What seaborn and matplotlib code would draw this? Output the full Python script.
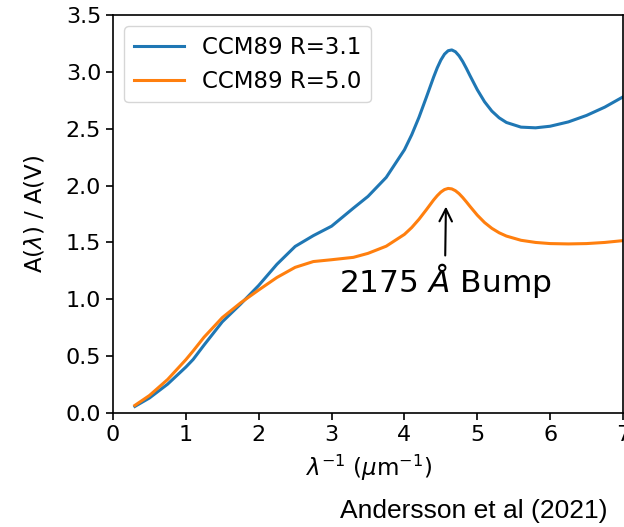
import pandas as pd
import matplotlib
matplotlib.use("Agg")
import matplotlib.pyplot as plt
import seaborn as sns

# inverse wavelength (1/micron)
inv_wave = [0.3, 0.5, 0.75, 1.0, 1.1, 1.25, 1.5, 1.75, 2.0, 2.25, 2.5, 2.75, 3.0,
            3.3, 3.5, 3.75, 4.0, 4.1, 4.2, 4.3, 4.4, 4.45, 4.5, 4.55, 4.6, 4.65, 4.7,
            4.75, 4.8, 4.85, 4.9, 5.0, 5.1, 5.2, 5.3, 5.4, 5.6, 5.8, 6.0, 6.25, 6.5,
            6.75, 7.0]
# A(lambda)/A(V)
ext_r31 = [0.058, 0.132, 0.254, 0.404, 0.471, 0.598, 0.802, 0.957, 1.122, 1.308, 1.465, 1.560, 1.643,
           1.802, 1.905, 2.072, 2.315, 2.447, 2.601, 2.775, 2.953, 3.035, 3.104, 3.156, 3.186, 3.193, 3.177,
           3.141, 3.091, 3.031, 2.967, 2.843, 2.737, 2.655, 2.596, 2.555, 2.514, 2.508, 2.522, 2.560, 2.617,
           2.690, 2.780]
ext_r50 = [0.067, 0.154, 0.295, 0.469, 0.546, 0.667, 0.839, 0.968, 1.082, 1.192, 1.281, 1.332, 1.348,
           1.369, 1.404, 1.467, 1.571, 1.631, 1.704, 1.787, 1.873, 1.911, 1.943, 1.965, 1.975, 1.971, 1.955,
           1.929, 1.895, 1.857, 1.817, 1.740, 1.675, 1.624, 1.585, 1.556, 1.519, 1.500, 1.490, 1.487, 1.490,
           1.500, 1.516]
labels = ["CCM89 R=3.1", "CCM89 R=5.0"]

df = pd.DataFrame({
    "x": inv_wave * 2,
    "ext": ext_r31 + ext_r50,
    "model": [labels[0]] * len(inv_wave) + [labels[1]] * len(inv_wave),
})

plt.rcParams["font.family"] = ["DejaVu Sans"]
fig = plt.figure(figsize=(6.24, 5.27), dpi=100)
ax = fig.add_axes([0.1811, 0.2163, 0.8173, 0.7552])
sns.lineplot(data=df, x="x", y="ext", hue="model", palette=["#1f77b4", "#ff7f0e"],
             linewidth=2.2, ax=ax, sort=False)

ax.set_xlim(0, 7)
ax.set_ylim(0, 3.5)
ax.set_xticks(range(0, 8))
ax.set_yticks([0, 0.5, 1.0, 1.5, 2.0, 2.5, 3.0, 3.5])
ax.tick_params(labelsize=16, length=5, width=1.2)
ax.set_xlabel(r"$\lambda^{-1}$ ($\mu$m$^{-1}$)", fontsize=16.5, labelpad=6)
ax.set_ylabel(r"A($\lambda$) / A(V)", fontsize=16.5)
ax.yaxis.set_label_coords(-0.13, 0.5)
for s in ax.spines.values():
    s.set_linewidth(1.2)

leg = ax.legend(loc="upper left", fontsize=16.5, handlelength=2.2, borderaxespad=0.5)
leg.set_title(None)

ax.annotate(r"2175 $\AA$ Bump", xy=(4.57, 1.84), xytext=(4.555, 1.165),
            ha="center", va="center", fontsize=22.5,
            arrowprops=dict(arrowstyle="->", color="black", lw=1.5))

fig.text(0.974, 0.008, "Andersson et al (2021)", ha="right", va="bottom",
         fontsize=19, family="Liberation Sans")

fig.savefig("out.png", dpi=100)
